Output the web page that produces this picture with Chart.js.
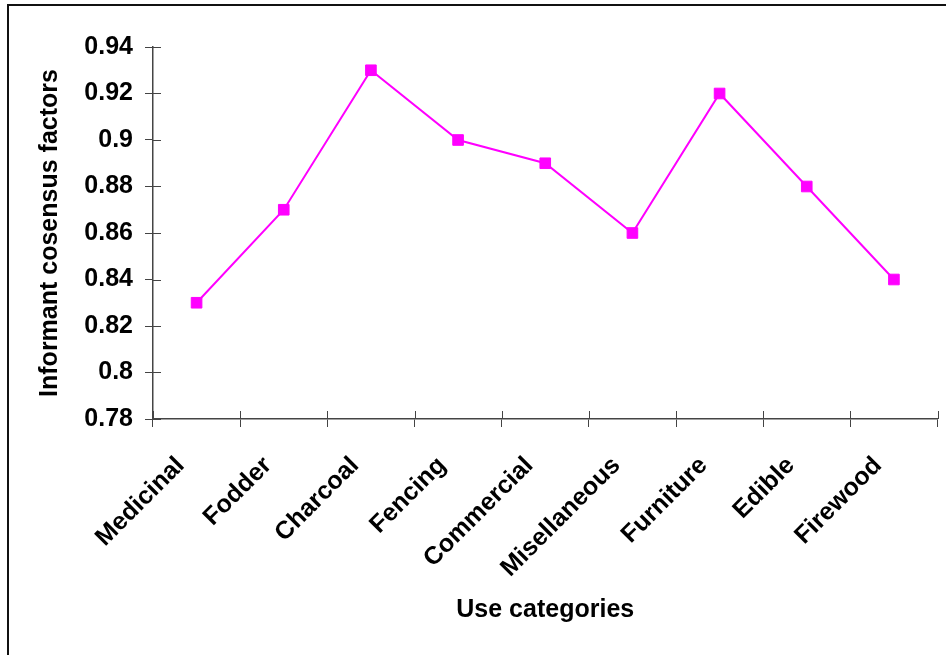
<!DOCTYPE html>
<html lang="en">
<head>
	<meta charset="UTF-8">
	<title>Informant consensus factors</title>
	<script src="https://cdn.jsdelivr.net/npm/chart.js"></script>
	<style>
		body {
			margin: 0;
			padding: 0;
			background: #fff;
			overflow: hidden;
		}

		.frame {
			position: absolute;
			left: 7px;
			top: 4px;
			width: 1000px;
			height: 700px;
			border-top: 2px solid #111;
			border-left: 2px solid #111;
		}

		#wrap {
			position: absolute;
			left: 0;
			top: 0;
			width: 946px;
			height: 655px;
		}
	</style>
</head>
<body>
	<div class="frame"></div>
	<div id="wrap">
		<canvas id="icf-chart" width="946" height="655"></canvas>
	</div>

	<script>
		// data
		const categories = ['Medicinal', 'Fodder', 'Charcoal', 'Fencing', 'Commercial', 'Misellaneous', 'Furniture', 'Edible', 'Firewood'];
		const icfValues = [0.83, 0.87, 0.93, 0.90, 0.89, 0.86, 0.92, 0.88, 0.84];
		const yTicks = [0.78, 0.8, 0.82, 0.84, 0.86, 0.88, 0.9, 0.92, 0.94];

		const font = { family: "'Liberation Sans', Arial, sans-serif", size: 25, weight: 'bold' };
		const axisColor = '#444';

		// tick marks in the reference cross the axis, chart.js only draws the outer half
		const crossTicks = {
			id: 'crossTicks',
			afterDraw(chart) {
				const ctx = chart.ctx;
				const area = chart.chartArea;
				const x = chart.scales.x;
				const y = chart.scales.y;
				ctx.save();
				ctx.strokeStyle = axisColor;
				ctx.lineWidth = 1;
				yTicks.forEach(v => {
					const py = Math.round(y.getPixelForValue(v)) + 0.5;
					ctx.beginPath();
					ctx.moveTo(area.left, py);
					ctx.lineTo(area.left + 8, py);
					ctx.stroke();
				});
				for (let i = 0; i <= categories.length; i++) {
					const px = Math.round(x.getPixelForValue(i - 0.5)) + 0.5;
					ctx.beginPath();
					ctx.moveTo(px, area.bottom);
					ctx.lineTo(px, area.bottom - 8);
					ctx.stroke();
				}
				ctx.restore();
			}
		};

		const ctx = document.getElementById('icf-chart').getContext('2d');
		new Chart(ctx, {
			type: 'line',
			data: {
				labels: categories,
				datasets: [{
					label: 'ICF',
					data: icfValues,
					borderColor: '#FF00FF',
					backgroundColor: '#FF00FF',
					borderWidth: 2,
					pointStyle: 'rect',
					pointRadius: 7.5,
					pointBorderWidth: 1,
					tension: 0,
					fill: false
				}]
			},
			options: {
				responsive: false,
				animation: false,
				layout: {
					padding: { left: 27, top: 47, right: 7, bottom: 20 }
				},
				plugins: {
					legend: { display: false },
					tooltip: { enabled: false }
				},
				scales: {
					x: {
						offset: true,
						grid: {
							offset: true,
							drawOnChartArea: false,
							tickLength: 8,
							color: axisColor
						},
						border: { color: axisColor, width: 1.5 },
						ticks: {
							font: font,
							color: '#000',
							minRotation: 45,
							maxRotation: 45,
							padding: 24,
							labelOffset: -16
						},
						title: {
							display: true,
							text: 'Use categories',
							font: font,
							color: '#000',
							padding: { top: 4, bottom: 10 }
						},
						afterFit(scale) {
							scale.height = 216;
						}
					},
					y: {
						min: 0.78,
						max: 0.94,
						afterBuildTicks(scale) {
							scale.ticks = yTicks.map(v => ({ value: v }));
						},
						grid: {
							drawOnChartArea: false,
							tickLength: 8,
							color: axisColor
						},
						border: { color: axisColor, width: 1.5 },
						ticks: {
							font: font,
							color: '#000',
							padding: 12,
							callback: v => String(+v.toFixed(2))
						},
						title: {
							display: true,
							text: 'Informant cosensus factors',
							font: font,
							color: '#000',
							padding: { top: 8, bottom: 4 }
						},
						afterFit(scale) {
							scale.width = 126;
						}
					}
				}
			},
			plugins: [crossTicks]
		});
	</script>
</body>
</html>
